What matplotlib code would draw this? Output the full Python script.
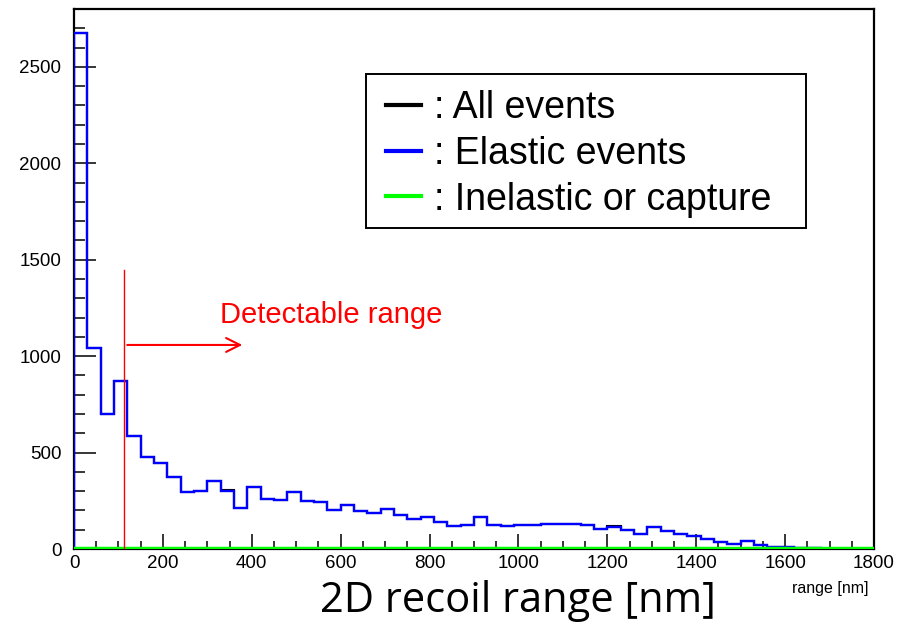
import numpy as np
import matplotlib
matplotlib.use("Agg")
import matplotlib.pyplot as plt
from matplotlib.ticker import MultipleLocator
from matplotlib.lines import Line2D
from matplotlib.patches import Rectangle

plt.rcParams['font.family'] = ['Liberation Sans', 'DejaVu Sans']

bin_edges = list(range(0, 1830, 30))
elastic = [2676, 1041, 700, 871, 584, 476, 444, 372, 294, 302,
           351, 302, 214, 320, 259, 252, 297, 250, 244, 202,
           226, 197, 185, 207, 178, 157, 168, 142, 119, 123,
           164, 123, 118, 124, 124, 128, 128, 128, 123, 105,
           116, 98, 80, 114, 95, 78, 67, 50, 36, 26,
           41, 19, 9, 9, 5, 5, 2, 2, 1, 0]
inelastic = [0, 0, 0, 0, 2, 0, 0, 0, 0, 0,
             0, 2, 0, 0, 0, 1, 0, 1, 1, 0,
             0, 0, 1, 0, 0, 0, 0, 0, 0, 0,
             0, 2, 2, 0, 0, 0, 0, 0, 0, 0,
             2, 0, 0, 0, 0, 0, 0, 0, 0, 0,
             0, 0, 0, 0, 0, 0, 0, 0, 0, 0]
all_events = [e + i for e, i in zip(elastic, inelastic)]

legend_labels = [": All events", ": Elastic events", ": Inelastic or capture"]
detect_x = 113.6
detect_top = 1447
arrow_y = 1058
arrow_end = 385

W, H = 902, 624
fig = plt.figure(figsize=(9.02, 6.24), dpi=100)
ax = fig.add_axes([74/W, 1-549/H, 800/W, 540/H])

edges = np.array(bin_edges)
ax.stairs(all_events, edges, color='black', lw=1.5, zorder=2)
ax.stairs(elastic, edges, color='#0000ff', lw=1.7, zorder=3)
ax.stairs(inelastic, edges, color='#00ff00', lw=3.2, zorder=4)

ax.set_xlim(0, 1800)
ax.set_ylim(0, 2800)

ax.xaxis.set_major_locator(MultipleLocator(200))
ax.xaxis.set_minor_locator(MultipleLocator(50))
ax.yaxis.set_major_locator(MultipleLocator(500))
ax.yaxis.set_minor_locator(MultipleLocator(100))
ax.tick_params(axis='both', which='both', direction='in', top=False, right=False,
               width=1.1, labelsize=13.5)
ax.tick_params(axis='y', which='major', length=16, pad=9)
ax.tick_params(axis='y', which='minor', length=8)
ax.tick_params(axis='x', which='major', length=11, pad=4)
ax.tick_params(axis='x', which='minor', length=5.5)
for s in ax.spines.values():
    s.set_linewidth(1.6)

# detectable range annotation
ax.plot([detect_x, detect_x], [0, detect_top], color='red', lw=1.0, zorder=5)
ax.annotate('', xy=(arrow_end, arrow_y), xytext=(detect_x, arrow_y),
            arrowprops=dict(arrowstyle='->,head_length=1.0,head_width=0.5',
                            color='red', lw=1.5), zorder=5)
fig.text(331/W, 1-315/H, 'Detectable range', color='red', fontsize=21,
         ha='center', va='center')

# legend (frame drawn separately)
ax.add_patch(Rectangle((366/W, 1-228/H), 440/W, 154/H, transform=fig.transFigure,
                       facecolor='white', edgecolor='black', lw=1.4, zorder=6,
                       clip_on=False))
handles = [Line2D([], [], color=c, lw=3) for c in ['black', '#0000ff', '#00ff00']]
leg = ax.legend(handles, legend_labels, loc='upper left',
                bbox_to_anchor=(386/W, 1-90/H), bbox_transform=fig.transFigure,
                fontsize=27, frameon=False,
                handlelength=0.92, handletextpad=0.35, borderpad=0.0,
                labelspacing=0.26, borderaxespad=0)
leg.set_zorder(7)

fig.text(868/W, 1-589/H, 'range [nm]', fontsize=11.5, ha='right', va='center')
fig.text(518/W, 1-601/H, '2D recoil range [nm]', fontsize=30, ha='center',
         va='center', family=['Open Sans', 'DejaVu Sans'])

fig.savefig('out.png', dpi=100)
